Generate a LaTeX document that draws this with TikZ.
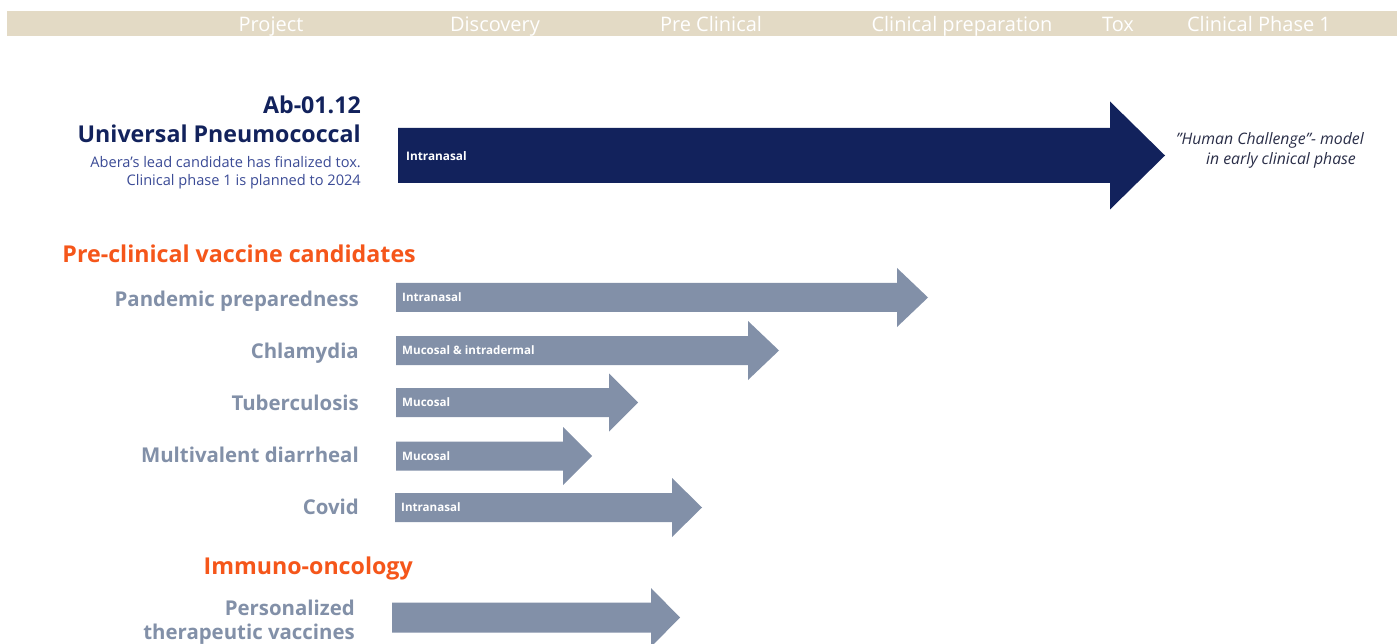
\documentclass[tikz,border=0pt]{standalone}
\usepackage{fontspec}
\setmainfont{Open Sans}
\definecolor{band}{HTML}{E3DAC5}
\definecolor{navy}{HTML}{12225C}
\definecolor{subblue}{HTML}{3B4B96}
\definecolor{grayblue}{HTML}{8290A8}
\definecolor{orng}{HTML}{F5561A}
\definecolor{ital}{HTML}{2A2E48}
\newcommand{\fs}[1]{\fontsize{#1}{#1}\selectfont}
\tikzset{
  hdr/.style={text=white,font=\fs{20},anchor=base,inner sep=0},
  lbl/.style={text=white,font=\bfseries\fs{11.6},anchor=west,inner sep=0},
  rowlbl/.style={text=grayblue,font=\bfseries\fs{20.4},anchor=base east,inner sep=0},
  sect/.style={text=orng,font=\bfseries\fs{23.2},anchor=base east,inner sep=0},
}
% #1 name, #2 x start, #3 x body end, #4 x tip, #5 y center, #6 body half h, #7 head half h, #8 colour
\newcommand{\myarrow}[8]{%
  \fill[#8] (#2,#5-#6) -- (#3,#5-#6) -- (#3,#5-#7) -- (#4,#5) -- (#3,#5+#7) -- (#3,#5+#6) -- (#2,#5+#6) -- cycle;
  \coordinate (#1) at (#2,#5);
}
\begin{document}
\begin{tikzpicture}[x=1pt,y=-1pt]
\useasboundingbox (0,0) rectangle (1400,644);
\fill[white] (0,0) rectangle (1400,644);
% header band
\fill[band] (7,11) rectangle (1397,36);
\node[hdr] (h1) at (271,31.5) {Project};
\node[hdr] (h2) at (495,31.5) {Discovery};
\node[hdr] (h3) at (711,31.5) {Pre Clinical};
\node[hdr] (h4) at (962,31.5) {Clinical preparation};
\node[hdr] (h5) at (1118,31.5) {Tox};
\node[hdr] (h6) at (1259,31.5) {Clinical Phase 1};
% main arrow
\myarrow{a0}{398}{1110}{1165}{155.5}{27.5}{54}{navy}
\node[lbl,font=\bfseries\fs{11.8}] (l0) at ([xshift=8,yshift=-1]a0) {Intranasal};
\node[text=navy,font=\bfseries\fs{23.2},anchor=base east,inner sep=0] (t1) at (361,114) {Ab-01.12};
\node[text=navy,font=\bfseries\fs{23.2},anchor=base east,inner sep=0] (t2) at (361,143) {Universal Pneumococcal};
\node[text=subblue,font=\fs{14.6},anchor=base east,inner sep=0] (t3) at (361,168) {Abera’s lead candidate has finalized tox.};
\node[text=subblue,font=\fs{14.6},anchor=base east,inner sep=0] (t4) at (361,186) {Clinical phase 1 is planned to 2024};
\node[text=ital,font=\itshape\fs{15.8},anchor=base,inner sep=0] (t5) at (1270,145) {”Human Challenge”- model};
\node[text=ital,font=\itshape\fs{15.8},anchor=base,inner sep=0] (t6) at (1281,165) {in early clinical phase};
% section 1
\node[sect] (s1) at (416,263) {Pre-clinical vaccine candidates};
\myarrow{a1}{396}{897}{928}{297.5}{14.5}{29.5}{grayblue}
\node[rowlbl] (r1) at (359,306) {Pandemic preparedness};
\node[lbl] (l1) at ([xshift=6]a1) {Intranasal};
\myarrow{a2}{396}{748}{779}{350.5}{14.5}{29.5}{grayblue}
\node[rowlbl] (r2) at (359,358) {Chlamydia};
\node[lbl] (l2) at ([xshift=6]a2) {Mucosal \& intradermal};
\myarrow{a3}{396}{609}{638}{402.5}{14.5}{29}{grayblue}
\node[rowlbl] (r3) at (359,410) {Tuberculosis};
\node[lbl] (l3) at ([xshift=6]a3) {Mucosal};
\myarrow{a4}{396}{563}{592}{456}{14.5}{29}{grayblue}
\node[rowlbl] (r4) at (359,462) {Multivalent diarrheal};
\node[lbl] (l4) at ([xshift=6]a4) {Mucosal};
\myarrow{a5}{395}{672}{702}{507.5}{14.5}{29.5}{grayblue}
\node[rowlbl] (r5) at (359,514) {Covid};
\node[lbl] (l5) at ([xshift=6]a5) {Intranasal};
% section 2
\node[sect] (s2) at (413,574) {Immuno-oncology};
\myarrow{a6}{392}{651}{680}{617.5}{15}{29.5}{grayblue}
\node[rowlbl] (r6) at (355,615) {Personalized};
\node[rowlbl] (r7) at (355,639) {therapeutic vaccines};
\end{tikzpicture}
\end{document}
